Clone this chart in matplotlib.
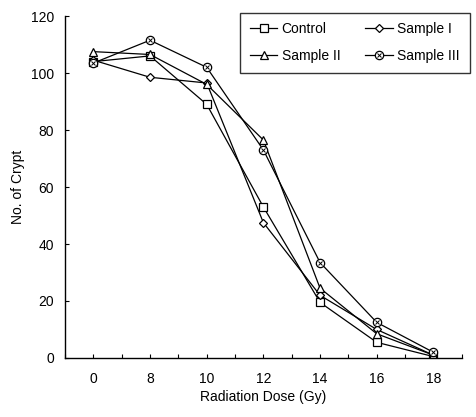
import matplotlib
matplotlib.use("Agg")
import matplotlib.pyplot as plt
from matplotlib.legend_handler import HandlerTuple
import numpy as np

plt.rcParams["font.family"] = ["Liberation Sans", "DejaVu Sans"]

# ============ Datos ============
doses = ["0", "8", "10", "12", "14", "16", "18"]
control = [104, 106, 89, 53, 19.5, 5.5, 0.5]
sample_1 = [104.5, 98.5, 96.5, 47.5, 22, 10, 1]
sample_2 = [107.5, 106.5, 96, 76.5, 24.5, 8.5, 1]
sample_3 = [103.5, 111.5, 102, 73, 33.5, 12.5, 2]

x = np.arange(len(doses))

fig = plt.figure(figsize=(4.76, 4.17), dpi=100)
ax = fig.add_axes([0.1366, 0.1415, 0.8334, 0.8201])

lw = 0.9
ms = 5.5
h_ctrl, = ax.plot(x, control, color="black", lw=lw, marker="s", ms=ms,
                  mfc="white", mec="black", mew=0.9)
h_s1, = ax.plot(x, sample_1, color="black", lw=lw, marker="D", ms=ms - 1,
                mfc="white", mec="black", mew=0.9)
h_s2, = ax.plot(x, sample_2, color="black", lw=lw, marker="^", ms=ms + 0.5,
                mfc="white", mec="black", mew=0.9)
h_s3, = ax.plot(x, sample_3, color="black", lw=lw, marker="o", ms=ms + 0.5,
                mfc="white", mec="black", mew=0.9)
h_s3b, = ax.plot(x, sample_3, ls="none", marker="x", ms=3, mec="black", mew=0.7)

ax.set_xlim(-0.5, 6.5)
ax.set_ylim(0, 120)
ax.set_xticks(x)
ax.set_xticklabels(doses)
ax.set_xticks(np.arange(-0.5, 6.6, 0.5), minor=True)
ax.set_yticks(np.arange(0, 121, 20))
ax.tick_params(axis="both", which="both", direction="in", length=3, width=0.8,
               labelsize=10)
ax.tick_params(axis="x", which="major", pad=10)
ax.tick_params(axis="y", pad=8)

for s in ("top", "right"):
    ax.spines[s].set_visible(False)
for s in ("left", "bottom"):
    ax.spines[s].set_linewidth(1.0)

ax.set_xlabel("Radiation Dose (Gy)", fontsize=10, labelpad=3)
ax.set_ylabel("No. of Crypt", fontsize=10)
ax.yaxis.set_label_coords(-0.10, 0.5)

leg = ax.legend([h_ctrl, h_s2, h_s1, (h_s3, h_s3b)],
                ["Control", "Sample II", "Sample I", "Sample III"],
                handler_map={tuple: HandlerTuple(ndivide=1, pad=0)},
                ncol=2, loc="upper right", bbox_to_anchor=(1.02, 1.01),
                fontsize=10, frameon=True, fancybox=False, edgecolor="black",
                handlelength=2.0, handletextpad=0.3, columnspacing=1.8,
                borderpad=0.7, labelspacing=0.9, borderaxespad=0)
leg.get_frame().set_linewidth(1.0)

fig.savefig("out.png", dpi=100)
